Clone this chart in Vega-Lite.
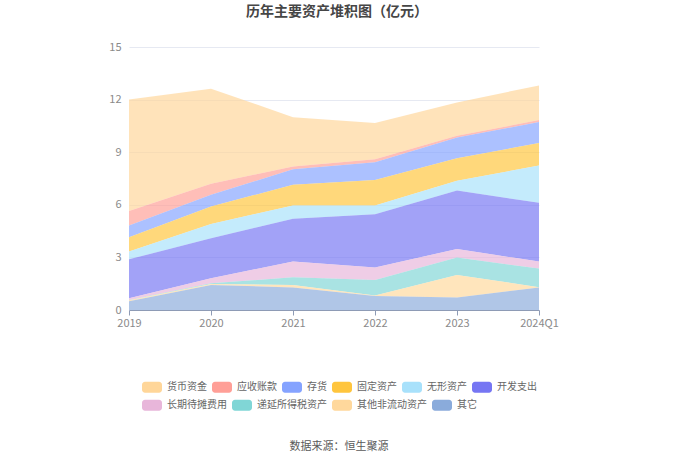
{
  "$schema": "https://vega.github.io/schema/vega-lite/v6.json",
  "width": 410,
  "height": 263,
  "autosize": {"type": "none"},
  "padding": {"left": 129, "top": 47, "right": 141, "bottom": 150},
  "background": "white",
  "title": {
    "text": "历年主要资产堆积图（亿元）",
    "anchor": "middle",
    "frame": "group",
    "dx": 3,
    "offset": 22,
    "fontSize": 14,
    "fontWeight": "bold",
    "color": "#464646",
    "font": "Noto Sans CJK SC"
  },
  "data": {
    "values": [
      {"year": "2019", "item": "货币资金", "value": 6.35},
      {"year": "2019", "item": "应收账款", "value": 0.83},
      {"year": "2019", "item": "存货", "value": 0.67},
      {"year": "2019", "item": "固定资产", "value": 0.82},
      {"year": "2019", "item": "无形资产", "value": 0.44},
      {"year": "2019", "item": "开发支出", "value": 2.22},
      {"year": "2019", "item": "长期待摊费用", "value": 0.10},
      {"year": "2019", "item": "递延所得税资产", "value": 0.02},
      {"year": "2019", "item": "其他非流动资产", "value": 0.05},
      {"year": "2019", "item": "其它", "value": 0.50},
      {"year": "2020", "item": "货币资金", "value": 5.42},
      {"year": "2020", "item": "应收账款", "value": 0.63},
      {"year": "2020", "item": "存货", "value": 0.67},
      {"year": "2020", "item": "固定资产", "value": 0.99},
      {"year": "2020", "item": "无形资产", "value": 0.82},
      {"year": "2020", "item": "开发支出", "value": 2.28},
      {"year": "2020", "item": "长期待摊费用", "value": 0.29},
      {"year": "2020", "item": "递延所得税资产", "value": 0.04},
      {"year": "2020", "item": "其他非流动资产", "value": 0.05},
      {"year": "2020", "item": "其它", "value": 1.43},
      {"year": "2021", "item": "货币资金", "value": 2.81},
      {"year": "2021", "item": "应收账款", "value": 0.16},
      {"year": "2021", "item": "存货", "value": 0.89},
      {"year": "2021", "item": "固定资产", "value": 1.18},
      {"year": "2021", "item": "无形资产", "value": 0.76},
      {"year": "2021", "item": "开发支出", "value": 2.44},
      {"year": "2021", "item": "长期待摊费用", "value": 0.89},
      {"year": "2021", "item": "递延所得税资产", "value": 0.44},
      {"year": "2021", "item": "其他非流动资产", "value": 0.15},
      {"year": "2021", "item": "其它", "value": 1.28},
      {"year": "2022", "item": "货币资金", "value": 2.06},
      {"year": "2022", "item": "应收账款", "value": 0.17},
      {"year": "2022", "item": "存货", "value": 1.01},
      {"year": "2022", "item": "固定资产", "value": 1.46},
      {"year": "2022", "item": "无形资产", "value": 0.50},
      {"year": "2022", "item": "开发支出", "value": 3.04},
      {"year": "2022", "item": "长期待摊费用", "value": 0.71},
      {"year": "2022", "item": "递延所得税资产", "value": 0.89},
      {"year": "2022", "item": "其他非流动资产", "value": 0.02},
      {"year": "2022", "item": "其它", "value": 0.80},
      {"year": "2023", "item": "货币资金", "value": 1.90},
      {"year": "2023", "item": "应收账款", "value": 0.10},
      {"year": "2023", "item": "存货", "value": 1.18},
      {"year": "2023", "item": "固定资产", "value": 1.29},
      {"year": "2023", "item": "无形资产", "value": 0.55},
      {"year": "2023", "item": "开发支出", "value": 3.34},
      {"year": "2023", "item": "长期待摊费用", "value": 0.49},
      {"year": "2023", "item": "递延所得税资产", "value": 0.99},
      {"year": "2023", "item": "其他非流动资产", "value": 1.28},
      {"year": "2023", "item": "其它", "value": 0.72},
      {"year": "2024Q1", "item": "货币资金", "value": 1.98},
      {"year": "2024Q1", "item": "应收账款", "value": 0.11},
      {"year": "2024Q1", "item": "存货", "value": 1.20},
      {"year": "2024Q1", "item": "固定资产", "value": 1.28},
      {"year": "2024Q1", "item": "无形资产", "value": 2.13},
      {"year": "2024Q1", "item": "开发支出", "value": 3.35},
      {"year": "2024Q1", "item": "长期待摊费用", "value": 0.40},
      {"year": "2024Q1", "item": "递延所得税资产", "value": 1.06},
      {"year": "2024Q1", "item": "其他非流动资产", "value": 0.02},
      {"year": "2024Q1", "item": "其它", "value": 1.28}
    ]
  },
  "transform": [
    {"calculate": "indexof(['货币资金','应收账款','存货','固定资产','无形资产','开发支出','长期待摊费用','递延所得税资产','其他非流动资产','其它'], datum.item)", "as": "rank"},
    {"stack": "value", "groupby": ["year"], "sort": [{"field": "rank", "order": "descending"}], "as": ["y0", "y1"]}
  ],
  "encoding": {
    "x": {
      "field": "year",
      "type": "ordinal",
      "scale": {"type": "point", "padding": 0},
      "axis": {
        "title": null,
        "labelAngle": 0,
        "labelColor": "#8a8a8a",
        "labelFontSize": 11,
        "labelPadding": 2,
        "domainColor": "#8e9bb5",
        "tickColor": "#8e9bb5",
        "tickSize": 5,
        "grid": false
      }
    },
    "y": {
      "field": "y1",
      "type": "quantitative",
      "stack": null,
      "scale": {"domain": [0, 15]},
      "axis": {
        "title": null,
        "values": [0, 3, 6, 9, 12, 15],
        "labelColor": "#8a8a8a",
        "labelFontSize": 11,
        "labelPadding": 8,
        "domain": false,
        "ticks": false,
        "gridColor": "#e6e9f2"
      }
    },
    "y2": {"field": "y0"}
  },
  "layer": [
    {
      "transform": [{"filter": "datum.rank < 6"}],
      "mark": {"type": "area", "opacity": 0.68, "interpolate": "linear"},
      "encoding": {
        "color": {
          "field": "item",
          "type": "nominal",
          "scale": {
            "domain": ["货币资金", "应收账款", "存货", "固定资产", "无形资产", "开发支出"],
            "range": ["#ffd699", "#ff9f97", "#85a3ff", "#ffc53d", "#a8e1fb", "#7676f3"]
          },
          "legend": {
            "title": "数据来源：恒生聚源",
            "titleOrient": "bottom",
            "titleAnchor": "middle",
            "titlePadding": 48,
            "titleFontSize": 11,
            "titleFontWeight": "normal",
            "titleColor": "#5a5a5a",
            "orient": "none",
            "direction": "horizontal",
            "legendX": 13,
            "legendY": 330
          }
        }
      }
    },
    {
      "transform": [{"filter": "datum.rank >= 6"}],
      "mark": {"type": "area", "opacity": 0.68, "interpolate": "linear"},
      "encoding": {
        "fill": {
          "field": "item",
          "type": "nominal",
          "scale": {
            "domain": ["长期待摊费用", "递延所得税资产", "其他非流动资产", "其它"],
            "range": ["#e8b6da", "#80d6d6", "#ffd89c", "#8aabdb"]
          },
          "legend": {
            "title": null,
            "orient": "none",
            "direction": "horizontal",
            "legendX": 13,
            "legendY": 348
          }
        }
      }
    }
  ],
  "config": {
    "font": "Noto Sans CJK SC",
    "view": {"stroke": null},
    "legend": {
      "symbolType": "M-0.7,-0.55 L0.7,-0.55 A0.3,0.3 0 0 1 1,-0.25 L1,0.25 A0.3,0.3 0 0 1 0.7,0.55 L-0.7,0.55 A0.3,0.3 0 0 1 -1,0.25 L-1,-0.25 A0.3,0.3 0 0 1 -0.7,-0.55 Z",
      "symbolSize": 400,
      "symbolStrokeWidth": 0,
      "symbolOpacity": 1,
      "labelFontSize": 10,
      "labelColor": "#666666",
      "labelOffset": 5,
      "columnPadding": 5
    }
  }
}
